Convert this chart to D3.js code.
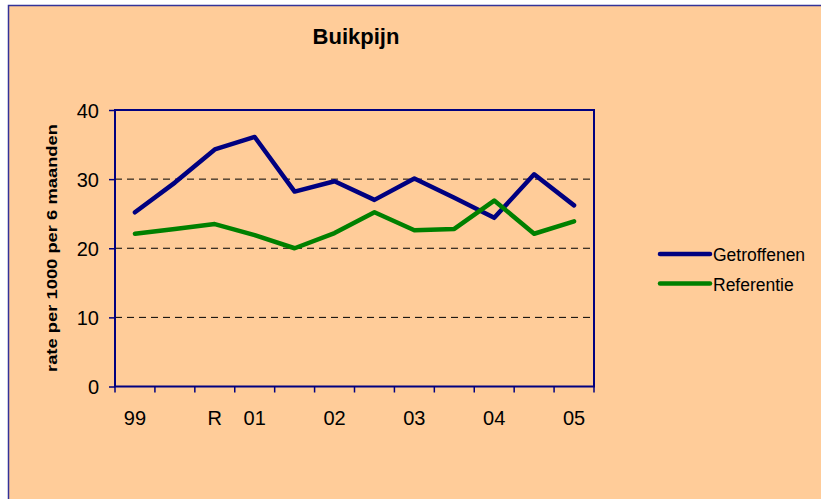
<!DOCTYPE html>
<html>
<head>
<meta charset="utf-8">
<script src="https://cdn.jsdelivr.net/npm/d3@7"></script>
<style>
  body { margin: 0; background: #fff; }
  svg text { font-family: Arial, "Liberation Sans", sans-serif; fill: #000; }
</style>
</head>
<body>
<div id="chart"></div>
<script>
// data
var categories = ["99", "a", "R", "01", "b", "02", "c", "03", "d", "04", "e", "05"];
var tickLabels = ["99", "", "R", "01", "", "02", "", "03", "", "04", "", "05"];
var getroffenen = [25.2, 29.5, 34.3, 36.1, 28.2, 29.7, 27.0, 30.1, 27.3, 24.4, 30.7, 26.2];
var referentie  = [22.1, 22.8, 23.5, 21.9, 20.0, 22.2, 25.2, 22.6, 22.8, 26.9, 22.1, 23.9];
var yTicks = [0, 10, 20, 30, 40];
var seriesNames = ["Getroffenen", "Referentie"];
var seriesColors = ["#000080", "#008000"];

var W = 821, H = 499;
var margin = {top: 110, right: 227, bottom: 112.5, left: 115};

var svg = d3.select("#chart").append("svg")
    .attr("width", W)
    .attr("height", H);

// chart area background + border
svg.append("rect")
    .attr("x", 8.5).attr("y", 5.5)
    .attr("width", W + 20).attr("height", H + 20)
    .attr("fill", "#FFCC99")
    .attr("stroke", "#333399")
    .attr("stroke-width", 1.5);

var x = d3.scaleBand()
    .domain(categories)
    .range([margin.left, W - margin.right]);

var y = d3.scaleLinear()
    .domain([0, 40])
    .range([H - margin.bottom, margin.top]);

// title
svg.append("text")
    .attr("x", 356).attr("y", 44)
    .attr("text-anchor", "middle")
    .style("font-size", "22px")
    .style("font-weight", "bold")
    .text("Buikpijn");

// gridlines (dashed)
svg.append("g")
    .selectAll("line")
    .data(yTicks.filter(function(d) { return d > 0 && d < 40; }))
    .enter().append("line")
    .attr("x1", x.range()[0]).attr("x2", x.range()[1])
    .attr("y1", function(d) { return y(d); })
    .attr("y2", function(d) { return y(d); })
    .attr("stroke", "#000")
    .attr("stroke-width", 1)
    .attr("stroke-dasharray", "7,5");

// y axis
var yAxis = svg.append("g")
    .attr("transform", "translate(" + margin.left + ",0)")
    .call(d3.axisLeft(y).tickValues(yTicks).tickSize(6).tickPadding(10));
yAxis.selectAll("text").style("font-size", "20px").attr("dy", "0.36em");

// x axis, ticks between categories
var xAxis = svg.append("g")
    .attr("transform", "translate(0," + (H - margin.bottom) + ")")
    .call(d3.axisBottom(x).tickSize(0).tickPadding(24)
        .tickFormat(function(d, i) { return tickLabels[i]; }));
xAxis.selectAll("text").style("font-size", "20px");
xAxis.select(".domain").remove();

var bandEdges = categories.map(function(c) { return x(c); }).concat([x.range()[1]]);
svg.append("g")
    .selectAll("line")
    .data(bandEdges)
    .enter().append("line")
    .attr("x1", function(d) { return d; }).attr("x2", function(d) { return d; })
    .attr("y1", H - margin.bottom).attr("y2", H - margin.bottom + 6)
    .attr("stroke", "#000080")
    .attr("stroke-width", 1.5);

// plot frame
svg.append("rect")
    .attr("x", x.range()[0]).attr("y", y(40))
    .attr("width", x.range()[1] - x.range()[0])
    .attr("height", y(0) - y(40))
    .attr("fill", "none")
    .attr("stroke", "#000080")
    .attr("stroke-width", 2);

yAxis.selectAll("line").attr("stroke", "#000080").attr("stroke-width", 1.5);
yAxis.select(".domain").remove();

// y label
svg.append("text")
    .attr("transform", "translate(57,248) rotate(-90)")
    .attr("text-anchor", "middle")
    .style("font-size", "15px")
    .style("font-weight", "bold")
    .attr("textLength", 248)
    .attr("lengthAdjust", "spacingAndGlyphs")
    .text("rate per 1000 per 6 maanden");

// lines
var line = d3.line()
    .x(function(d, i) { return x(categories[i]) + x.bandwidth() / 2; })
    .y(function(d) { return y(d); });

[getroffenen, referentie].forEach(function(s, k) {
  svg.append("path")
      .datum(s)
      .attr("d", line)
      .attr("fill", "none")
      .attr("stroke", seriesColors[k])
      .attr("stroke-width", 4.5)
      .attr("stroke-linejoin", "round")
      .attr("stroke-linecap", "round");
});

// legend
var legend = svg.append("g")
    .selectAll("g")
    .data(seriesNames)
    .enter().append("g")
    .attr("transform", function(d, i) { return "translate(660," + (254 + i * 29.5) + ")"; });

legend.append("line")
    .attr("x1", 0).attr("x2", 50)
    .attr("stroke", function(d, i) { return seriesColors[i]; })
    .attr("stroke-width", 4.5)
    .attr("stroke-linecap", "round");

legend.append("text")
    .attr("x", 53).attr("y", 7)
    .style("font-size", "17.5px")
    .text(function(d) { return d; });
</script>
</body>
</html>
